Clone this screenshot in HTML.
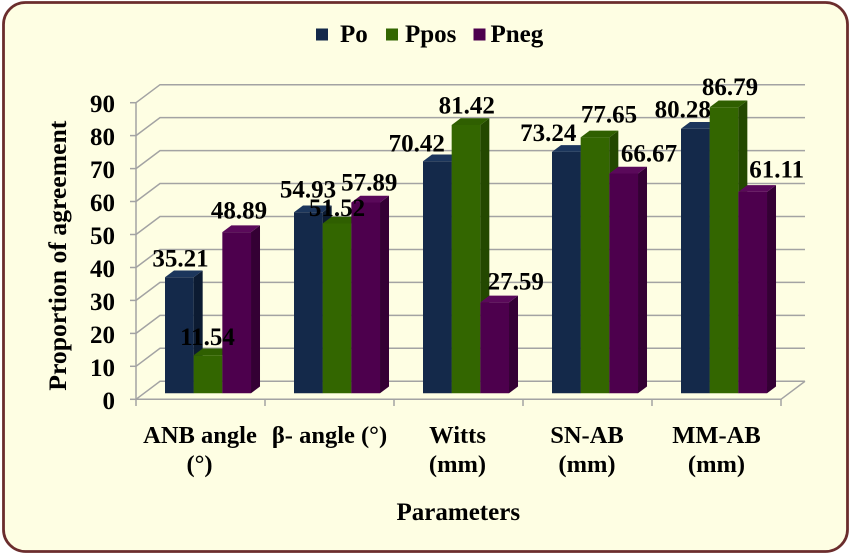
<!DOCTYPE html>
<html>
<head>
<meta charset="utf-8">
<style>
  html, body { margin: 0; padding: 0; background: #ffffff; }
  svg { display: block; }
  text { font-family: "Liberation Serif", "Times New Roman", serif; font-weight: bold; fill: #000; }
</style>
</head>
<body>
<svg width="851" height="554" viewBox="0 0 851 554" xmlns="http://www.w3.org/2000/svg">
  <!-- background & border -->
  <rect x="3.5" y="2.5" width="844" height="549" rx="22" ry="22" fill="#fefee3" stroke="#6b2d2d" stroke-width="2.8"/>

  <!-- legend -->
  <rect x="316" y="28.5" width="12" height="12" fill="#14294a"/>
  <text x="340" y="42" font-size="25">Po</text>
  <rect x="386" y="28.5" width="12" height="12" fill="#336600"/>
  <text x="405" y="42" font-size="25">Ppos</text>
  <rect x="473.5" y="28.5" width="12" height="12" fill="#4d004d"/>
  <text x="490.5" y="42" font-size="25">Pneg</text>

  <!-- gridlines (back wall + left wall diagonals) -->
  <g stroke="#a3a3a3" stroke-width="1.5" fill="none">
    <polyline points="136,399.3 160,381.3 805,381.3"/>
    <polyline points="136,366.3 160,348.3 805,348.3"/>
    <polyline points="136,333.4 160,315.4 805,315.4"/>
    <polyline points="136,300.4 160,282.4 805,282.4"/>
    <polyline points="136,267.5 160,249.5 805,249.5"/>
    <polyline points="136,234.5 160,216.5 805,216.5"/>
    <polyline points="136,201.5 160,183.5 805,183.5"/>
    <polyline points="136,168.6 160,150.6 805,150.6"/>
    <polyline points="136,135.6 160,117.6 805,117.6"/>
    <polyline points="136,102.7 160,84.7 805,84.7"/>
    <!-- floor front edge and right diagonal -->
    <polyline points="136,399.3 781,399.3 805,381.3"/>
    <!-- y axis -->
    <line x1="136" y1="102.7" x2="136" y2="399.3"/>
    <!-- y ticks -->
    <line x1="130" y1="399.3" x2="136" y2="399.3"/>
    <line x1="130" y1="366.3" x2="136" y2="366.3"/>
    <line x1="130" y1="333.4" x2="136" y2="333.4"/>
    <line x1="130" y1="300.4" x2="136" y2="300.4"/>
    <line x1="130" y1="267.5" x2="136" y2="267.5"/>
    <line x1="130" y1="234.5" x2="136" y2="234.5"/>
    <line x1="130" y1="201.5" x2="136" y2="201.5"/>
    <line x1="130" y1="168.6" x2="136" y2="168.6"/>
    <line x1="130" y1="135.6" x2="136" y2="135.6"/>
    <line x1="130" y1="102.7" x2="136" y2="102.7"/>
    <!-- category ticks -->
    <line x1="136" y1="399.3" x2="136" y2="406"/>
    <line x1="265" y1="399.3" x2="265" y2="406"/>
    <line x1="394" y1="399.3" x2="394" y2="406"/>
    <line x1="523" y1="399.3" x2="523" y2="406"/>
    <line x1="652" y1="399.3" x2="652" y2="406"/>
    <line x1="781" y1="399.3" x2="781" y2="406"/>
  </g>

  <!-- y tick labels -->
  <g font-size="25" text-anchor="end">
    <text x="115" y="408.8">0</text>
    <text x="115" y="375.8">10</text>
    <text x="115" y="342.9">20</text>
    <text x="115" y="309.9">30</text>
    <text x="115" y="277">40</text>
    <text x="115" y="244">50</text>
    <text x="115" y="211">60</text>
    <text x="115" y="178.1">70</text>
    <text x="115" y="145.1">80</text>
    <text x="115" y="112.2">90</text>
  </g>

  <!-- y axis title -->
  <text transform="translate(66,255.7) rotate(-90)" font-size="25.5" text-anchor="middle" textLength="270" lengthAdjust="spacingAndGlyphs">Proportion of agreement</text>

  <!-- bars -->
  <g id="bars"></g>

  <!-- x labels -->
  <g font-size="24.5" text-anchor="middle">
    <text x="200" y="443">ANB angle</text>
    <text x="199.5" y="472">(°)</text>
    <text x="329.5" y="443">β- angle (°)</text>
    <text x="457.5" y="443">Witts</text>
    <text x="457.5" y="472">(mm)</text>
    <text x="587" y="443">SN-AB</text>
    <text x="587" y="472">(mm)</text>
    <text x="716.5" y="443">MM-AB</text>
    <text x="716.5" y="472">(mm)</text>
  </g>
  <text x="458.3" y="520" font-size="25" text-anchor="middle">Parameters</text>

  <!-- data labels -->
  <g id="labels" font-size="25" text-anchor="middle">
    <text x="180.5" y="266.7">35.21</text>
    <text x="207.5" y="345">11.54</text>
    <text x="239" y="218.3">48.89</text>
    <text x="308" y="197.3">54.93</text>
    <text x="337" y="216">51.52</text>
    <text x="369.2" y="190.7">57.89</text>
    <text x="416.7" y="151.7">70.42</text>
    <text x="466.7" y="113.3">81.42</text>
    <text x="515.7" y="289.3">27.59</text>
    <text x="548.3" y="141">73.24</text>
    <text x="609" y="122.7">77.65</text>
    <text x="649" y="161.7">66.67</text>
    <text x="682.8" y="117.3">80.28</text>
    <text x="730" y="95">86.79</text>
    <text x="776.7" y="177.7">61.11</text>
  </g>
</svg>
<script>
(function(){
  var data = [
    [35.21, 11.54, 48.89],
    [54.93, 51.52, 57.89],
    [70.42, 81.42, 27.59],
    [73.24, 77.65, 66.67],
    [80.28, 86.79, 61.11]
  ];
  var cols = [
    {f:"#14294a", t:"#1c365c", s:"#0c1b32"},
    {f:"#336600", t:"#2f5f00", s:"#234800"},
    {f:"#4d004d", t:"#5a095a", s:"#340034"}
  ];
  var g = document.getElementById("bars");
  var NS = "http://www.w3.org/2000/svg";
  var w = 28.67, dx = 9, dy = -6.75, yb = 393.3, k = 3.296;
  function poly(pts, fill){
    var p = document.createElementNS(NS, "polygon");
    p.setAttribute("points", pts.map(function(a){return a[0].toFixed(2)+","+a[1].toFixed(2);}).join(" "));
    p.setAttribute("fill", fill);
    g.appendChild(p);
  }
  for (var i = 0; i < 5; i++) {
    for (var s = 0; s < 3; s++) {
      var x0 = 165 + 129*i + w*s;
      var yt = yb - data[i][s]*k;
      var c = cols[s];
      poly([[x0,yt],[x0+w,yt],[x0+w,yb],[x0,yb]], c.f);
      poly([[x0+w,yt],[x0+w+dx,yt+dy],[x0+w+dx,yb+dy],[x0+w,yb]], c.s);
      poly([[x0,yt],[x0+w,yt],[x0+w+dx,yt+dy],[x0+dx,yt+dy]], c.t);
    }
  }
})();
</script>
</body>
</html>
